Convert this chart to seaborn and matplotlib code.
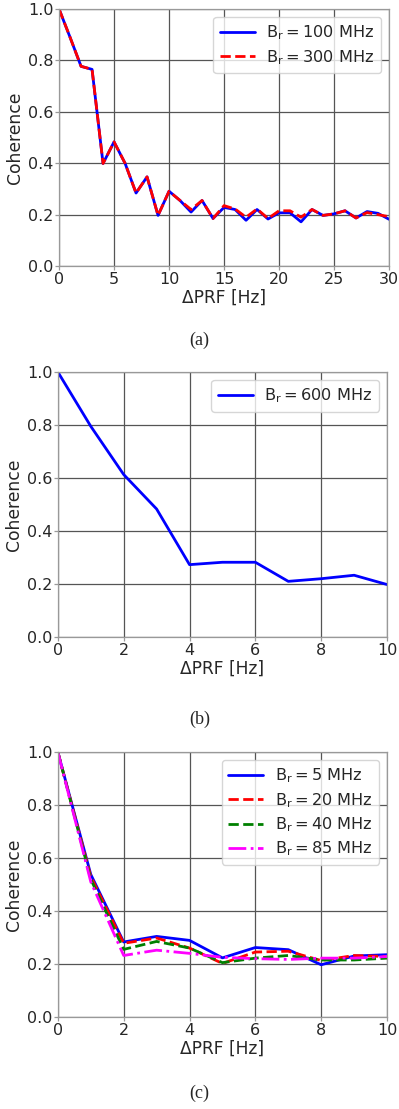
import numpy as np
import pandas as pd
import matplotlib
matplotlib.use("Agg")
import matplotlib.pyplot as plt
import seaborn as sns

# ---- data (a) ----
prf_a = list(range(0, 31))
coh_100 = [1.0, 0.89, 0.777, 0.765, 0.399, 0.483, 0.40, 0.284, 0.347, 0.197,
           0.291, 0.255, 0.21, 0.255, 0.185, 0.228, 0.22, 0.178, 0.22, 0.183,
           0.207, 0.207, 0.172, 0.22, 0.197, 0.203, 0.215, 0.187, 0.212, 0.205, 0.182]
coh_300 = [1.0, 0.89, 0.777, 0.765, 0.399, 0.483, 0.40, 0.284, 0.347, 0.197,
           0.291, 0.255, 0.22, 0.255, 0.185, 0.235, 0.222, 0.19, 0.222, 0.185,
           0.215, 0.215, 0.19, 0.22, 0.197, 0.203, 0.215, 0.187, 0.208, 0.2, 0.192]
# ---- data (b) ----
prf_b = list(range(0, 11))
coh_600 = [1.0, 0.795, 0.613, 0.483, 0.273, 0.282, 0.282, 0.21, 0.22, 0.233, 0.198]
# ---- data (c) ----
prf_c = list(range(0, 11))
coh_5 = [1.0, 0.538, 0.283, 0.304, 0.289, 0.223, 0.262, 0.254, 0.197, 0.23, 0.235]
coh_20 = [1.0, 0.53, 0.278, 0.298, 0.26, 0.202, 0.245, 0.248, 0.213, 0.232, 0.228]
coh_40 = [1.0, 0.52, 0.255, 0.285, 0.26, 0.205, 0.222, 0.232, 0.215, 0.215, 0.222]
coh_85 = [1.0, 0.51, 0.232, 0.252, 0.24, 0.225, 0.22, 0.217, 0.222, 0.222, 0.228]

labels_a = [r"$\mathrm{B_r = 100\ MHz}$", r"$\mathrm{B_r = 300\ MHz}$"]
labels_b = [r"$\mathrm{B_r = 600\ MHz}$"]
labels_c = [r"$\mathrm{B_r = 5\ MHz}$", r"$\mathrm{B_r = 20\ MHz}$",
            r"$\mathrm{B_r = 40\ MHz}$", r"$\mathrm{B_r = 85\ MHz}$"]
captions = ["(a)", "(b)", "(c)"]

sns.set_style("whitegrid")
plt.rcParams['font.family'] = ['DejaVu Sans']
plt.rcParams['mathtext.fontset'] = 'dejavusans'
plt.rcParams['mathtext.default'] = 'regular'

fig = plt.figure(figsize=(3.99, 11.09), dpi=100)
TICK_FS = 11.5
LAB_FS = 12.3
LEG_FS = 11.6

def style_ax(ax, xmax, xticks):
    ax.set_xlim(0, xmax)
    ax.set_ylim(0, 1.0)
    ax.set_xticks(xticks)
    ax.set_yticks([0.0, 0.2, 0.4, 0.6, 0.8, 1.0])
    ax.set_yticklabels(["0.0", "0.2", "0.4", "0.6", "0.8", "1.0"])
    ax.grid(True, color="#555555", linewidth=0.9)
    for s in ax.spines.values():
        s.set_color("#999999")
        s.set_linewidth(0.9)
    ax.tick_params(labelsize=TICK_FS, length=3, width=0.9, color="#999999",
                   bottom=True, left=True)
    ax.tick_params(axis="x", pad=1.5)
    ax.tick_params(axis="y", pad=1)
    ax.set_xlabel("ΔPRF [Hz]", fontsize=LAB_FS, labelpad=1)
    ax.set_ylabel("Coherence", fontsize=LAB_FS, labelpad=3)

def add_legend(ax):
    leg = ax.legend(loc="upper right", fontsize=LEG_FS, handlelength=2.2,
                    borderpad=0.4, labelspacing=0.35, framealpha=0.8,
                    handletextpad=0.7, borderaxespad=0.5)
    leg.get_frame().set_edgecolor("#cccccc")

# Panel (a)
ax1 = fig.add_axes([0.148, 0.7601, 0.827, 0.2318])
df_a = pd.DataFrame({"x": prf_a * 2, "y": coh_100 + coh_300,
                     "s": [labels_a[0]] * len(prf_a) + [labels_a[1]] * len(prf_a)})
sns.lineplot(data=df_a[df_a.s == labels_a[0]], x="x", y="y", ax=ax1, color="blue",
             linewidth=2, label=labels_a[0])
sns.lineplot(data=df_a[df_a.s == labels_a[1]], x="x", y="y", ax=ax1, color="red",
             linewidth=2, linestyle="--", label=labels_a[1])
style_ax(ax1, 30, [0, 5, 10, 15, 20, 25, 30])
add_legend(ax1)

# Panel (b)
ax2 = fig.add_axes([0.145, 0.4256, 0.825, 0.2390])
df_b = pd.DataFrame({"x": prf_b, "y": coh_600})
sns.lineplot(data=df_b, x="x", y="y", ax=ax2, color="blue", linewidth=2,
             label=labels_b[0])
style_ax(ax2, 10, [0, 2, 4, 6, 8, 10])
add_legend(ax2)

# Panel (c)
ax3 = fig.add_axes([0.145, 0.0830, 0.825, 0.2389])
series_c = [coh_5, coh_20, coh_40, coh_85]
colors_c = ["blue", "red", "green", "magenta"]
styles_c = ["-", "--", "--", "-."]
for vals, lab, col, ls in zip(series_c, labels_c, colors_c, styles_c):
    d = pd.DataFrame({"x": prf_c, "y": vals})
    sns.lineplot(data=d, x="x", y="y", ax=ax3, color=col, linewidth=2,
                 linestyle=ls, label=lab)
style_ax(ax3, 10, [0, 2, 4, 6, 8, 10])
add_legend(ax3)

for ypos, cap in zip([0.693, 0.351, 0.0144], captions):
    fig.text(0.5, ypos, cap, ha="center", va="center", fontsize=13,
             family="Liberation Serif")

fig.savefig("out.png", dpi=100)
